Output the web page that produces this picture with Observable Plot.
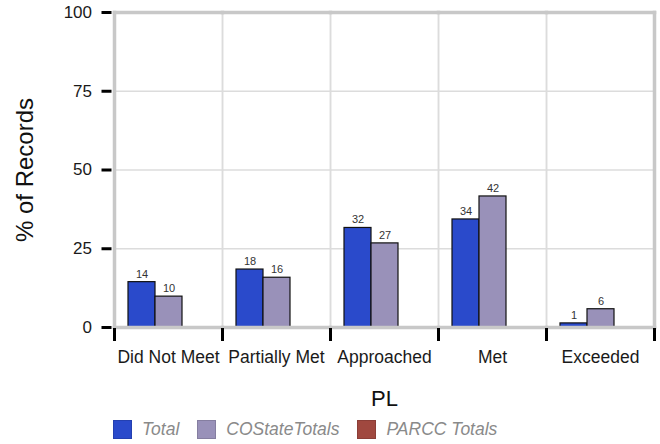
<!DOCTYPE html>
<html>
<head>
<meta charset="utf-8">
<script src="https://cdn.jsdelivr.net/npm/d3@7"></script>
<script src="https://cdn.jsdelivr.net/npm/@observablehq/plot@0.6"></script>
<style>
  html, body { margin: 0; padding: 0; background: #fff; }
  body { width: 660px; height: 444px; overflow: hidden; font-family: "Liberation Sans", Arial, sans-serif; }
  #chart svg { overflow: visible; display: block; }
  .legend { display: flex; align-items: center; margin-left: 113px; height: 28px; }
  .legend .item { display: flex; align-items: center; margin-right: 18px; }
  .legend .sw { width: 19px; height: 19px; margin-right: 10px; box-sizing: border-box; }
  .legend .lab { font-style: italic; color: #8a8a8a; font-size: 17.5px; }
</style>
</head>
<body>
<div id="chart"></div>
<div class="legend" id="legend"></div>
<script>
// ---- data ----
const levels = ["Did Not Meet", "Partially Met", "Approached", "Met", "Exceeded"];
const seriesNames = ["Total", "COStateTotals", "PARCC Totals"];
const seriesColors = ["#2a4acb", "#9991b9", "#a0483f"];
const totalValues = [14.4, 18.4, 31.6, 34.3, 1.3];
const coStateValues = [9.8, 15.8, 26.7, 41.6, 5.8];
const parccValues = []; // no bars drawn for PARCC Totals
const yTicks = [0, 25, 50, 75, 100];

const rows = [];
levels.forEach((pl, i) => {
  if (totalValues[i] != null) rows.push({PL: pl, series: "Total", value: totalValues[i]});
  if (coStateValues[i] != null) rows.push({PL: pl, series: "COStateTotals", value: coStateValues[i]});
  if (parccValues[i] != null) rows.push({PL: pl, series: "PARCC Totals", value: parccValues[i]});
});

const H = 415, MT = 12, MB = 88;
const panelH = H - MT - MB;
const border = "#c8c8c8";
const grid = "#dcdcdc";

const chart = Plot.plot({
  width: 660,
  height: H,
  marginLeft: 113,
  marginRight: 6,
  marginTop: MT,
  marginBottom: MB,
  style: {fontFamily: "Liberation Sans, Arial, sans-serif", background: "#fff", color: "#1a1a1a"},
  fx: {domain: levels, padding: 0},
  x: {domain: seriesNames, paddingInner: 0, paddingOuter: 0.5, axis: null},
  y: {domain: [0, 100]},
  color: {domain: seriesNames, range: seriesColors},
  marks: [
    Plot.ruleY([25, 50, 75], {stroke: grid, strokeWidth: 1.5}),
    Plot.frame({stroke: grid, strokeWidth: 1.5}),
    Plot.barY(rows, {fx: "PL", x: "series", y: "value", fill: "series", stroke: "#111", strokeWidth: 1.2}),
    Plot.text(rows, {fx: "PL", x: "series", y: "value", text: d => String(Math.round(d.value)), dy: -8, fontSize: 11, fill: "#333"}),
    // outer panel border
    Plot.frame({anchor: "top", stroke: border, strokeWidth: 3.5}),
    Plot.frame({anchor: "bottom", stroke: border, strokeWidth: 3.5}),
    Plot.frame({anchor: "left", stroke: border, strokeWidth: 3.5, facetAnchor: "left"}),
    Plot.frame({anchor: "right", stroke: border, strokeWidth: 3.5, facetAnchor: "right"}),
    // x ticks at category boundaries
    Plot.frame({anchor: "left", stroke: "#000", strokeWidth: 3, insetTop: panelH + 2, insetBottom: -12}),
    Plot.frame({anchor: "right", stroke: "#000", strokeWidth: 3, insetTop: panelH + 2, insetBottom: -12, facetAnchor: "right"}),
    // axes
    Plot.axisY({ticks: yTicks, tickSize: 10, tickPadding: 10, dx: -2.5, strokeWidth: 3, stroke: "#000", fontSize: 17, fill: "#1a1a1a", label: null}),
    Plot.axisY({ticks: yTicks, tickSize: 0, tickFormat: () => "", label: "% of Records", labelAnchor: "center", labelOffset: 99, labelArrow: false, fontSize: 24, fill: "#111"}),
    Plot.axisFx({anchor: "bottom", tickSize: 0, tickPadding: 23, fontSize: 17.5, fill: "#1a1a1a", label: null}),
    Plot.axisFx({anchor: "bottom", tickSize: 0, tickFormat: () => "", label: "PL", labelAnchor: "center", labelOffset: 78, labelArrow: false, fontSize: 22, fill: "#111"})
  ]
});
document.getElementById("chart").appendChild(chart);

const legend = document.getElementById("legend");
seriesNames.forEach((name, i) => {
  const item = document.createElement("div");
  item.className = "item";
  const sw = document.createElement("div");
  sw.className = "sw";
  sw.style.background = seriesColors[i];
  sw.style.border = "1px solid " + d3.color(seriesColors[i]).darker(0.4);
  const lab = document.createElement("span");
  lab.className = "lab";
  lab.textContent = name;
  item.appendChild(sw);
  item.appendChild(lab);
  legend.appendChild(item);
});
</script>
</body>
</html>
